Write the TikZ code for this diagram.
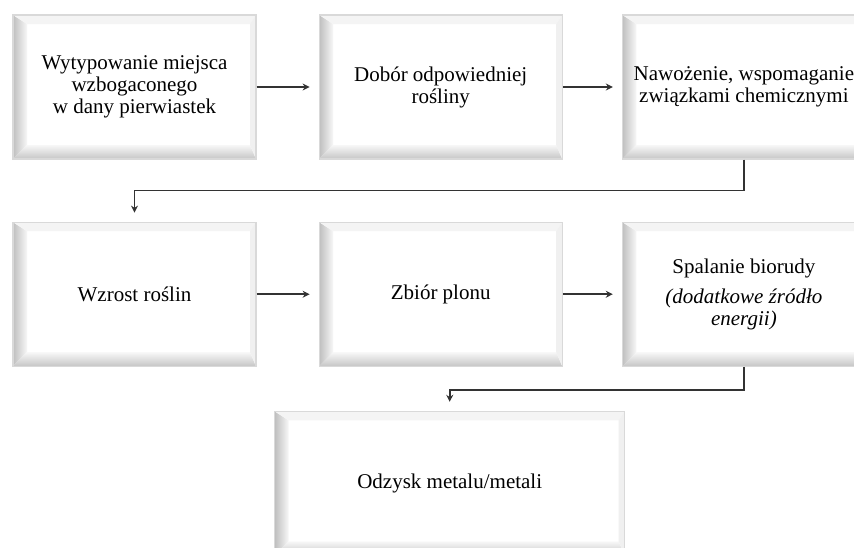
\documentclass[tikz,border=0pt]{standalone}
\usepackage{fontspec}
\setmainfont{Liberation Serif}
\usetikzlibrary{positioning,arrows.meta,calc}
\tikzset{
bevelbox/.style={
	  draw=gray!30, line width=1.2pt, fill=white, align=center,
	    minimum width=243pt, minimum height=144pt, inner sep=0pt,
    path picture={
	\path (path picture bounding box.south west) coordinate (pa)
	      (path picture bounding box.north east) coordinate (pc);
	\coordinate (pb) at (pa -| pc);
	\coordinate (pd) at (pa |- pc);
	\coordinate (ia) at ($(pa)+(14pt,14pt)$);
	\coordinate (ic) at ($(pc)+(-6pt,-9pt)$);
	\coordinate (ib) at (ia -| ic);
	\coordinate (id) at (ia |- ic);
	\shade[left color=gray!50, right color=gray!6] (pa) -- (pd) -- (id) -- (ia) -- cycle;
	\shade[bottom color=gray!45, top color=gray!6] (pa) -- (ia) -- (ib) -- (pb) -- cycle;
	\fill[gray!9] (pd) -- (pc) -- (ic) -- (id) -- cycle;
	\fill[gray!12] (pb) -- (ib) -- (ic) -- (pc) -- cycle;
    }},
flow/.style={
	  draw=black!80, line width=1.6pt,
	    -{Stealth[length=7pt,width=7pt]}, shorten >=9pt}
}

\begin{document}
\begin{tikzpicture}[node distance=62pt and 61pt,
	font=\fontsize{21}{22}\selectfont]
	\useasboundingbox (0pt,0pt) rectangle (854pt,-547pt);
	\node[bevelbox] (typ) at (134.5pt,-87pt)
		{Wytypowanie miejsca\\wzbogaconego\\w dany pierwiastek};
	\node[bevelbox, right=62pt of typ] (dobor) {Dobór odpowiedniej\\rośliny};
	\node[bevelbox, right=59pt of dobor] (nawoz)
		{Nawożenie, wspomaganie\\związkami chemicznymi};
	\node[bevelbox, below=62pt of typ] (wzrost) {Wzrost roślin\vphantom{ó}};
	\node[bevelbox, below=62pt of dobor] (zbior) {Zbiór plonu};
	\node[bevelbox, below=62pt of nawoz] (spal)
		{Spalanie biorudy\\[8pt]{\itshape (dodatkowe źródło}\\{\itshape energii)}};
	\node[bevelbox, minimum width=350pt, below=44pt of zbior, xshift=9pt] (odzysk)
		{Odzysk metalu/metali};
	\draw[flow] (typ) -- (dobor);
	\draw[flow] (dobor) -- (nawoz);
	\draw[flow] (wzrost) -- (zbior);
	\draw[flow] (zbior) -- (spal);
	\draw[flow] (nawoz.south) -- ++(0,-31pt) -| (wzrost.north);
	\draw[flow] (spal.south) -- ++(0,-23pt) -| (odzysk.north);
\end{tikzpicture}
\end{document}
